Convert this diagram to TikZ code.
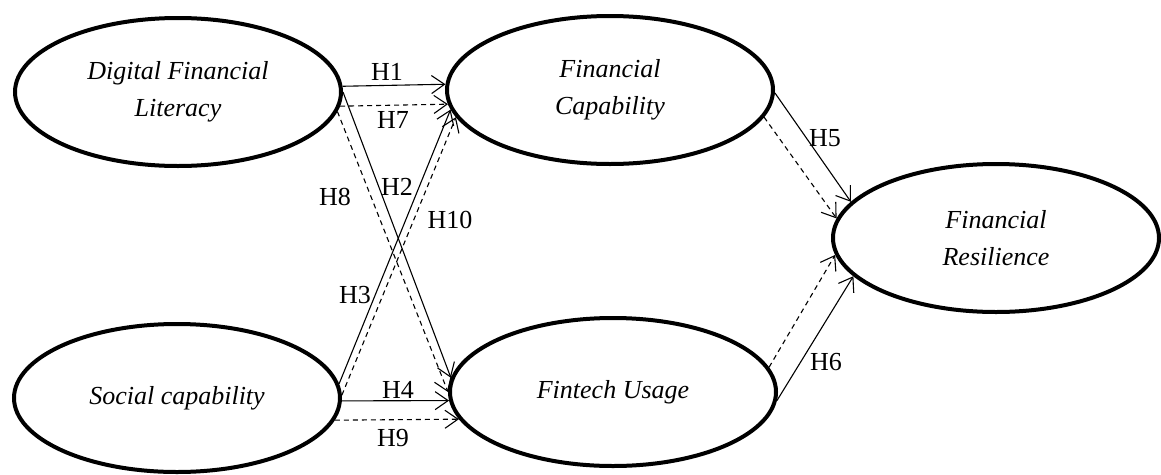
\documentclass[tikz,border=0pt]{standalone}
\usepackage{fontspec}
\setmainfont{Liberation Serif}
\usetikzlibrary{shapes.geometric,arrows.meta}
\begin{document}
\begin{tikzpicture}[x=1pt,y=-1pt,
  construct/.style={ellipse, draw, line width=4pt, minimum width=326pt, minimum height=148pt,
    inner sep=0pt, align=center, font=\fontsize{26}{37}\selectfont\itshape},
  hyp/.style={line width=1.1pt, -{Straight Barb[length=13pt,width=18pt,line width=1.1pt]}},
  med/.style={hyp, dash pattern=on 5pt off 4pt},
  lbl/.style={font=\fontsize{26}{30}\selectfont, inner sep=0pt}]
\useasboundingbox (0,0) rectangle (1161,474);
\node[construct] (dfl) at (178,92) {Digital Financial\\Literacy};
\node[construct] (sc)  at (177,398) {Social capability};
\node[construct] (fc)  at (610,90) {Financial\\Capability};
\node[construct] (fu)  at (613,392) {Fintech Usage};
\node[construct] (fr)  at (996,238) {Financial\\Resilience};
% direct paths
\draw[hyp] (dfl.2) -- (fc.178.6);
\draw[med] (dfl.-5.6) -- (fc.185);
\draw[hyp] (dfl.0) -- (fu.175);
\draw[med] (dfl.-7.9) -- (fu.180);
\draw[hyp] (sc.5.3) -- (fc.187);
\draw[med] (sc.1.7) -- (fc.190.5);
\draw[hyp] (sc.-1.4) -- (fu.183.5);
\draw[med] (sc.-8) -- (fu.190);
\draw[hyp] (fc.-1.7) -- (fr.166.4);
\draw[med] (fc.-10) -- (fr.173);
\draw[hyp] (fu.-3.5) -- (fr.195);
\draw[med] (fu.9.5) -- (fr.186.9);
% labels
\node[lbl] (h1) at (387,72) {H1};
\node[lbl] (h7) at (393,120) {H7};
\node[lbl] (h8) at (335,197) {H8};
\node[lbl] (h2) at (397,187) {H2};
\node[lbl] (h10) at (450,220) {H10};
\node[lbl] (h3) at (355,295) {H3};
\node[lbl] (h4) at (398,390) {H4};
\node[lbl] (h9) at (393,438) {H9};
\node[lbl] (h5) at (825,138) {H5};
\node[lbl] (h6) at (826,362) {H6};
\end{tikzpicture}
\end{document}
